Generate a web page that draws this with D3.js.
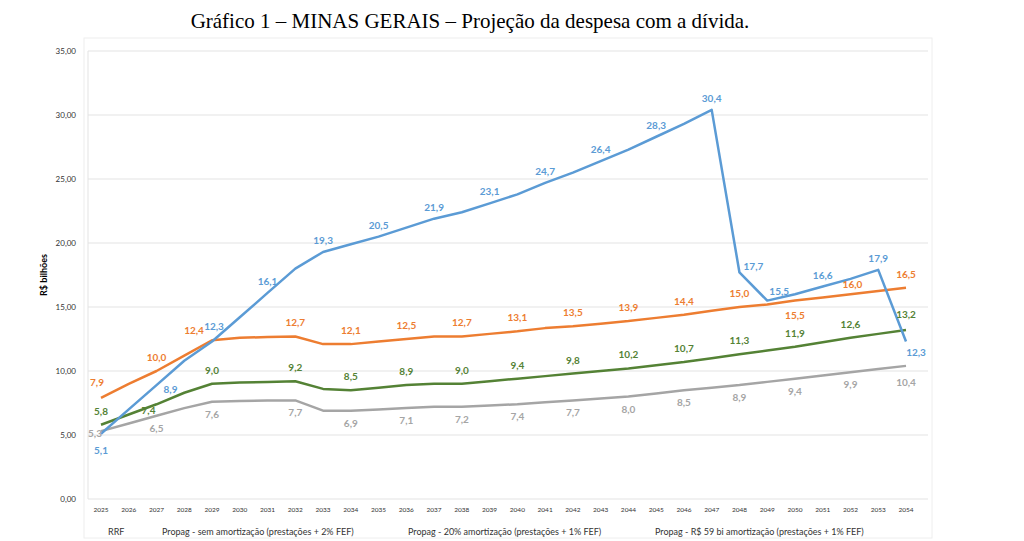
<!DOCTYPE html><html><head><meta charset="utf-8"><script src="https://cdn.jsdelivr.net/npm/d3@7"></script>
<style>body{margin:0;background:#fff}</style></head><body><svg id="c" width="1024" height="541"></svg>
<script>
const years=d3.range(2025,2055).map(String);
const yTicks=[0,5,10,15,20,25,30,35];
const seriesNames=["RRF","Propag - sem amortização (prestações + 2% FEF)","Propag - 20% amortização (prestações + 1% FEF)","Propag - R$ 59 bi amortização (prestações + 1% FEF)"];
const rrf=[5.1,7.0,8.9,10.8,12.3,14.2,16.1,18.0,19.3,19.9,20.5,21.2,21.9,22.4,23.1,23.8,24.7,25.5,26.4,27.3,28.3,29.3,30.4,17.7,15.5,16.0,16.6,17.2,17.9,12.3];
const semAmort=[7.9,9.0,10.0,11.2,12.4,12.6,12.65,12.7,12.1,12.1,12.3,12.5,12.7,12.7,12.9,13.1,13.35,13.5,13.7,13.9,14.15,14.4,14.7,15.0,15.2,15.5,15.75,16.0,16.25,16.5];
const amort20=[5.8,6.6,7.4,8.3,9.0,9.1,9.15,9.2,8.6,8.5,8.7,8.9,9.0,9.0,9.2,9.4,9.6,9.8,10.0,10.2,10.45,10.7,11.0,11.3,11.6,11.9,12.25,12.6,12.9,13.2];
const amort59=[5.3,5.9,6.5,7.1,7.6,7.65,7.7,7.7,6.9,6.9,7.0,7.1,7.2,7.2,7.3,7.4,7.55,7.7,7.85,8.0,8.25,8.5,8.7,8.9,9.15,9.4,9.65,9.9,10.15,10.4];
const rrfLabelYears=["2025","2027","2029","2031","2033","2035","2037","2039","2041","2043","2045","2047","2048","2049","2051","2053","2054"];
const semLabelYears=["2025","2027","2029","2032","2034","2036","2038","2040","2042","2044","2046","2048","2050","2052","2054"];
const a20LabelYears=["2025","2027","2029","2032","2034","2036","2038","2040","2042","2044","2046","2048","2050","2052","2054"];
const a59LabelYears=["2025","2027","2029","2032","2034","2036","2038","2040","2042","2044","2046","2048","2050","2052","2054"];

const svg=d3.select("#c");
const x=d3.scalePoint().domain(years).range([101,906]);
const y=d3.scaleLinear().domain([0,35]).range([499,51]);
svg.append("rect").attr("x",84).attr("y",38).attr("width",848).attr("height",500).attr("fill","none").attr("stroke","#eee");
svg.append("text").attr("x",470).attr("y",28).attr("text-anchor","middle").attr("font-family","Liberation Serif").attr("font-size",21).text("Gráfico 1 – MINAS GERAIS – Projeção da despesa com a dívida.");
svg.append("g").selectAll("line").data(yTicks).join("line").attr("x1",88).attr("x2",928).attr("y1",d=>y(d)).attr("y2",d=>y(d)).attr("stroke","#e3e3e3");
svg.append("line").attr("x1",88).attr("x2",88).attr("y1",51).attr("y2",499).attr("stroke","#e3e3e3");
const fmt=v=>d3.format(".2f")(v).replace(".",",");
svg.append("g").selectAll("text").data(yTicks).join("text").attr("x",76).attr("y",d=>y(d)+3).attr("text-anchor","end").attr("font-family","Lato").attr("font-size",8).attr("fill","#333").text(fmt);
svg.append("text").attr("transform","translate(47,275) rotate(-90)").attr("text-anchor","middle").attr("font-family","Lato").attr("font-weight","bold").attr("font-size",9).text("R$ bilhões");
svg.append("g").selectAll("text").data(years).join("text").attr("x",d=>x(d)).attr("y",512).attr("text-anchor","middle").attr("font-family","Lato").attr("font-size",6.5).attr("fill","#333").text(d=>d);
const legX=[108,162,408,655];
svg.append("g").selectAll("text").data(seriesNames).join("text").attr("x",(d,i)=>legX[i]).attr("y",535).attr("font-family","Lato").attr("font-size",9).attr("fill","#333").text(d=>d);

const series=[
 {v:rrf,c:"#5B9BD5",lab:rrfLabelYears,dy:-8,off:{"2025":[0,20],"2027":[14,8],"2029":[2,-12],"2048":[14,-2],"2049":[12,-6],"2054":[10,14]}},
 {v:semAmort,c:"#ED7D31",lab:semLabelYears,dy:-10,off:{"2025":[-4,-12],"2029":[-18,-6],"2050":[0,18],"2052":[2,-6]}},
 {v:amort20,c:"#548235",lab:a20LabelYears,dy:-10,off:{"2025":[0,-10],"2027":[-8,10],"2054":[0,-12]}},
 {v:amort59,c:"#A5A5A5",lab:a59LabelYears,dy:16,off:{"2025":[-6,6],"2054":[0,20]}}
];
const line=d3.line().x((d,i)=>x(years[i])).y(d=>y(d));
[3,2,1,0].forEach(k=>{const s=series[k];
 svg.append("path").attr("d",line(s.v)).attr("fill","none").attr("stroke",s.c).attr("stroke-width",2.5).attr("stroke-linejoin","round");});
series.forEach(s=>{
 svg.append("g").selectAll("text").data(s.lab).join("text")
  .attr("x",d=>x(d)+(s.off[d]?s.off[d][0]:0))
  .attr("y",d=>y(s.v[years.indexOf(d)])+(s.off[d]?s.off[d][1]:s.dy))
  .attr("text-anchor","middle").attr("font-family","Lato").attr("font-weight","bold").attr("font-size",10).attr("fill",s.c)
  .text(d=>d3.format(".1f")(s.v[years.indexOf(d)]).replace(".",","));
});
</script></body></html>
